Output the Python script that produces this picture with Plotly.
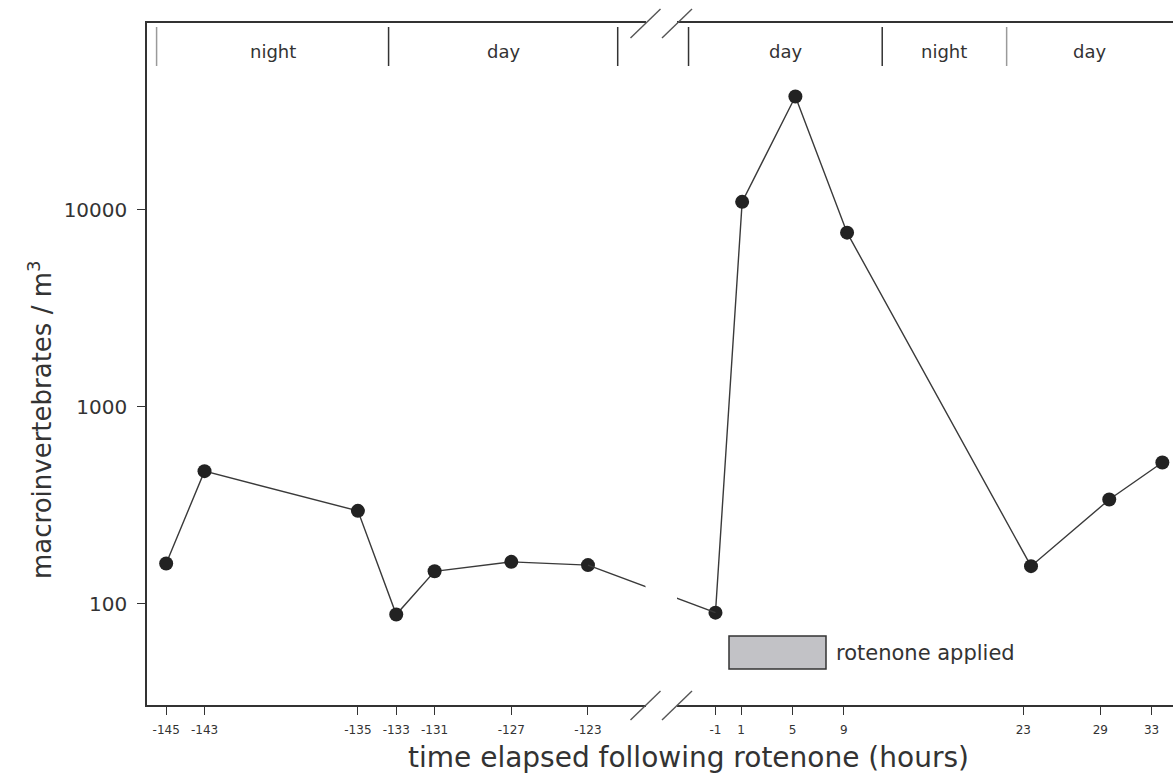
import plotly.graph_objects as go

# ---------------- data ----------------
pre_hours = [-145, -143, -135, -133, -131, -127, -123]
pre_density = [160, 471, 296, 88, 146, 163, 157]

post_hours = [-1, 1.08, 5.23, 9.26, 23.6, 29.7, 33.84]
post_density = [90, 11000, 37700, 7670, 155, 338, 521]

pre_tickvals = [-145, -143, -135, -133, -131, -127, -123]
pre_ticktext = ["-145", "-143", "-135", "-133", "-131", "-127", "-123"]
post_tickvals = [-1, 1, 5, 9, 23, 29, 33]
post_ticktext = ["-1", "1", "5", "9", "23", "29", "33"]

y_tickvals = [100, 1000, 10000]
y_ticktext = ["100", "1000", "10000"]

# light periods (start, end, label) in hours, for each axis segment
pre_periods = [(-145.5, -133.4, "night"), (-133.4, -121.45, "day")]
post_periods = [(-3.1, 12.0, "day"), (12.0, 21.7, "night"), (21.7, 34.67, "day")]
pre_dividers = [-145.5, -133.4, -121.45]
post_dividers = [-3.1, 12.0, 21.7]
divider_colors_pre = ["#9a9a9a", "#333333", "#333333"]
divider_colors_post = ["#333333", "#333333", "#9a9a9a"]

# ---------------- layout constants ----------------
W, H = 1173, 780
ML, MR, MT, MB = 147, 0, 23, 75
PW = W - ML - MR
PH = H - MT - MB

def pxx(px):
    return (px - ML) / PW

def pxy(py):
    return (H - MB - py) / PH

left_dom = [0, pxx(645.5)]
right_dom = [pxx(677), 1]
left_range = [-146, -120]
right_range = [-4, 34.67]
ylog_range = [1.485, 4.950]

def axis_px(val, dom, rng):
    p0 = ML + dom[0] * PW
    p1 = ML + dom[1] * PW
    return p0 + (val - rng[0]) / (rng[1] - rng[0]) * (p1 - p0)

# overlay axes carrying the line across the break (straight in screen space)
xa = pre_hours[-1]
xb = post_hours[0]
pa = axis_px(xa, left_dom, left_range)
pb = axis_px(xb, right_dom, right_range)
scale = (pb - pa) / (xb - xa)

def overlay_range(dom):
    p0 = ML + dom[0] * PW
    p1 = ML + dom[1] * PW
    return [xa + (p0 - pa) / scale, xa + (p1 - pa) / scale]

FONT = "DejaVu Sans"
TXT = "#333333"
LINE = "#3a3a3a"

fig = go.Figure()

marker = dict(size=14, color="#222222")
fig.add_trace(go.Scatter(x=pre_hours, y=pre_density, mode="lines+markers",
                         line=dict(color=LINE, width=1.4), marker=marker,
                         xaxis="x", yaxis="y", showlegend=False, cliponaxis=False))
fig.add_trace(go.Scatter(x=post_hours, y=post_density, mode="lines+markers",
                         line=dict(color=LINE, width=1.4), marker=marker,
                         xaxis="x2", yaxis="y", showlegend=False, cliponaxis=False))
# connector across the axis break
fig.add_trace(go.Scatter(x=[pre_hours[-1], post_hours[0]], y=[pre_density[-1], post_density[0]],
                         mode="lines", line=dict(color=LINE, width=1.4),
                         xaxis="x3", yaxis="y", showlegend=False, hoverinfo="skip"))
fig.add_trace(go.Scatter(x=[pre_hours[-1], post_hours[0]], y=[pre_density[-1], post_density[0]],
                         mode="lines", line=dict(color=LINE, width=1.4),
                         xaxis="x4", yaxis="y", showlegend=False, hoverinfo="skip"))

xcommon = dict(showline=True, linecolor="#333333", linewidth=1.5, mirror=True,
               ticks="outside", ticklen=8, tickwidth=1.3, tickcolor="#333333",
               showgrid=False, zeroline=False, ticklabelstandoff=5,
               tickfont=dict(family=FONT, size=12, color=TXT))

fig.update_layout(
    width=W, height=H,
    margin=dict(l=ML, r=MR, t=MT, b=MB),
    paper_bgcolor="white", plot_bgcolor="white",
    xaxis=dict(domain=left_dom, range=left_range, anchor="y",
               tickvals=pre_tickvals, ticktext=pre_ticktext, **xcommon),
    xaxis2=dict(domain=right_dom, range=right_range, anchor="y",
                tickvals=post_tickvals, ticktext=post_ticktext, **xcommon),
    xaxis3=dict(overlaying="x", anchor="y", range=overlay_range(left_dom), visible=False),
    xaxis4=dict(overlaying="x2", anchor="y", range=overlay_range(right_dom), visible=False),
    yaxis=dict(type="log", range=ylog_range, anchor="x",
               tickvals=y_tickvals, ticktext=y_ticktext,
               showline=True, linecolor="#333333", linewidth=1.5, mirror=False,
               ticks="outside", ticklen=8, tickwidth=1.3, tickcolor="#333333",
               showgrid=False, zeroline=False, ticklabelstandoff=6,
               tickfont=dict(family=FONT, size=20, color=TXT)),
    font=dict(family=FONT, color=TXT),
)

shapes = []
annotations = []

# day/night dividers and labels
ytop, ybot = pxy(27), pxy(66)
for xv, c in zip(pre_dividers, divider_colors_pre):
    shapes.append(dict(type="line", xref="x", yref="paper", x0=xv, x1=xv, y0=ybot, y1=ytop,
                       line=dict(color=c, width=1.5)))
for xv, c in zip(post_dividers, divider_colors_post):
    shapes.append(dict(type="line", xref="x2", yref="paper", x0=xv, x1=xv, y0=ybot, y1=ytop,
                       line=dict(color=c, width=1.5)))
for (a, b, lab) in pre_periods:
    annotations.append(dict(x=(a + b) / 2, y=pxy(52), xref="x", yref="paper", text=lab,
                            showarrow=False, xanchor="center", yanchor="middle",
                            font=dict(family=FONT, size=18, color=TXT)))
for (a, b, lab) in post_periods:
    annotations.append(dict(x=(a + b) / 2, y=pxy(52), xref="x2", yref="paper", text=lab,
                            showarrow=False, xanchor="center", yanchor="middle",
                            font=dict(family=FONT, size=18, color=TXT)))

# axis break slashes
for xb_paper in [left_dom[1], right_dom[0]]:
    for yb_paper in [0, 1]:
        shapes.append(dict(type="line", xref="paper", yref="paper",
                           xsizemode="pixel", xanchor=xb_paper,
                           ysizemode="pixel", yanchor=yb_paper,
                           x0=-15, x1=15, y0=-15, y1=14,
                           line=dict(color="#555555", width=1.4)))

# legend box for rotenone
shapes.append(dict(type="rect", xref="paper", yref="paper",
                   x0=pxx(729), x1=pxx(826), y0=pxy(669), y1=pxy(636),
                   fillcolor="#c2c2c6", line=dict(color="#333333", width=1.5)))
annotations.append(dict(x=pxx(834), y=pxy(653), xref="paper", yref="paper",
                        text="rotenone applied", showarrow=False,
                        xanchor="left", yanchor="middle",
                        font=dict(family=FONT, size=21, color=TXT)))

# axis titles
annotations.append(dict(x=pxx(688), y=pxy(757), xref="paper", yref="paper",
                        text="time elapsed following rotenone (hours)", showarrow=False,
                        xanchor="center", yanchor="middle",
                        font=dict(family=FONT, size=28, color=TXT)))
annotations.append(dict(x=pxx(40), y=pxy(420), xref="paper", yref="paper",
                        text="macroinvertebrates / m<sup>3</sup>", showarrow=False, textangle=-90,
                        xanchor="center", yanchor="middle",
                        font=dict(family=FONT, size=26, color=TXT)))

fig.update_layout(shapes=shapes, annotations=annotations)
fig.write_html("out.html")
